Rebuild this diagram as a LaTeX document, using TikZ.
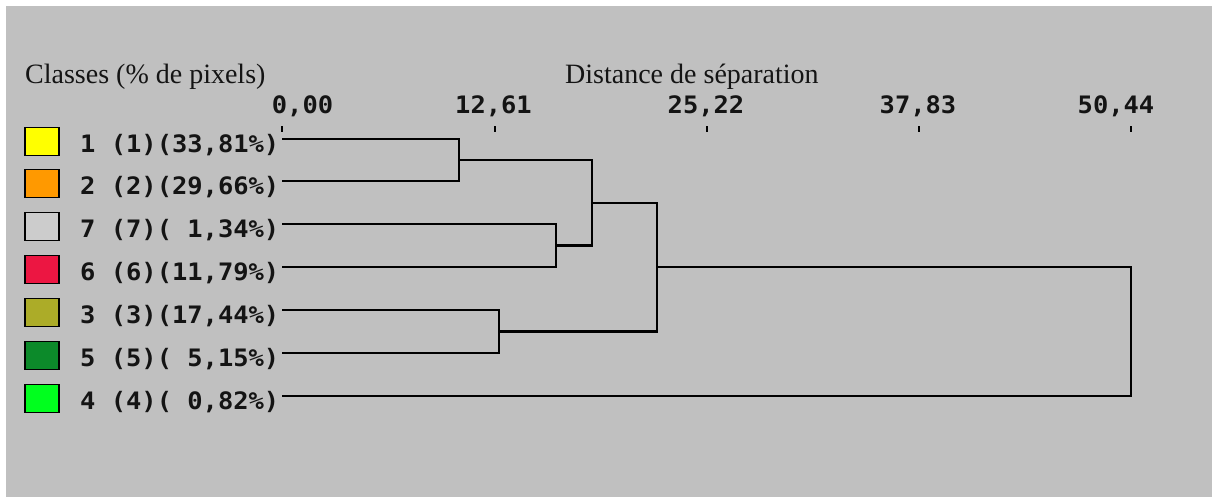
\documentclass[tikz,border=0pt]{standalone}
\usepackage{fontspec}
\setmainfont{Liberation Serif}
\newfontfamily\pixmono[FakeStretch=1.06]{DejaVu Sans Mono}
\definecolor{panel}{RGB}{192,192,192}
\definecolor{ink}{RGB}{20,20,20}
\definecolor{cyellow}{RGB}{255,255,0}
\definecolor{corange}{RGB}{255,153,0}
\definecolor{cpale}{RGB}{204,204,204}
\definecolor{cred}{RGB}{236,22,66}
\definecolor{colive}{RGB}{172,172,40}
\definecolor{cdkgreen}{RGB}{12,138,42}
\definecolor{cgreen}{RGB}{0,255,30}
\begin{document}
\begin{tikzpicture}[x=1pt,y=-1pt,
  title/.style={font=\fontsize{28}{28}\selectfont, text=ink, inner sep=0, anchor=base west},
  monotext/.style={font=\pixmono\bfseries\fontsize{24}{24}\selectfont, text=ink, inner sep=0},
  leaflabel/.style={monotext, anchor=base east},
  ticklabel/.style={monotext, anchor=base},
  swatch/.style={draw=black, line width=1.8pt, minimum width=34pt, minimum height=28pt, inner sep=0},
  link/.style={draw=black, line width=2.2pt},
  tickmark/.style={draw=black, line width=1.6pt}]
\useasboundingbox (0,0) rectangle (1212,499);
\fill[white] (0,0) rectangle (1212,499);
\fill[panel] (6,6) rectangle (1212,497);

% titles
\node[title] (ttl) at (25,83) {Classes (\% de pixels)};
\node[title] (dst) at (565,83) {Distance de séparation};

% axis ticks and labels
\foreach \x/\lx/\t [count=\i] in {282/302.5/{0,00},495/493.5/{12,61},707/706/{25,22},919/918/{37,83},1131/1116/{50,44}}{
  \node[ticklabel] (tl\i) at (\lx,113) {\t};
  \coordinate (ta\i) at (\x,126);
  \coordinate (tb\i) at (\x,132);
  \draw[tickmark] (ta\i) -- (tb\i);
}

% leaves
\foreach \y/\col/\txt [count=\i] in {
  139/cyellow/{1 (1)(33,81\%)},
  181/corange/{2 (2)(29,66\%)},
  224/cpale/{7 (7)( 1,34\%)},
  267/cred/{6 (6)(11,79\%)},
  310/colive/{3 (3)(17,44\%)},
  353/cdkgreen/{5 (5)( 5,15\%)},
  396/cgreen/{4 (4)( 0,82\%)}}{
  \node[swatch, fill=\col] (sw\i) at (42,\y+2.5) {};
  \node[leaflabel] (lb\i) at (279.5,\y+13) {\txt};
  \coordinate (leaf\i) at (282,\y);
}

% merge points
\coordinate (c12) at (459,160);
\coordinate (c76) at (556,245.5);
\coordinate (c35) at (499,331.5);
\coordinate (c1276) at (592,202.75);
\coordinate (cA) at (657,267);
\coordinate (croot) at (1131,331.5);

\draw[link] (leaf1) -| (c12) |- (leaf2);
\draw[link] (leaf3) -| (c76) |- (leaf4);
\draw[link] (leaf5) -| (c35) |- (leaf6);
\draw[link] (c12) -| (c1276) |- (c76);
\draw[link] (c1276) -| (cA) |- (c35);
\draw[link] (cA) -| (croot) |- (leaf7);
\end{tikzpicture}
\end{document}
